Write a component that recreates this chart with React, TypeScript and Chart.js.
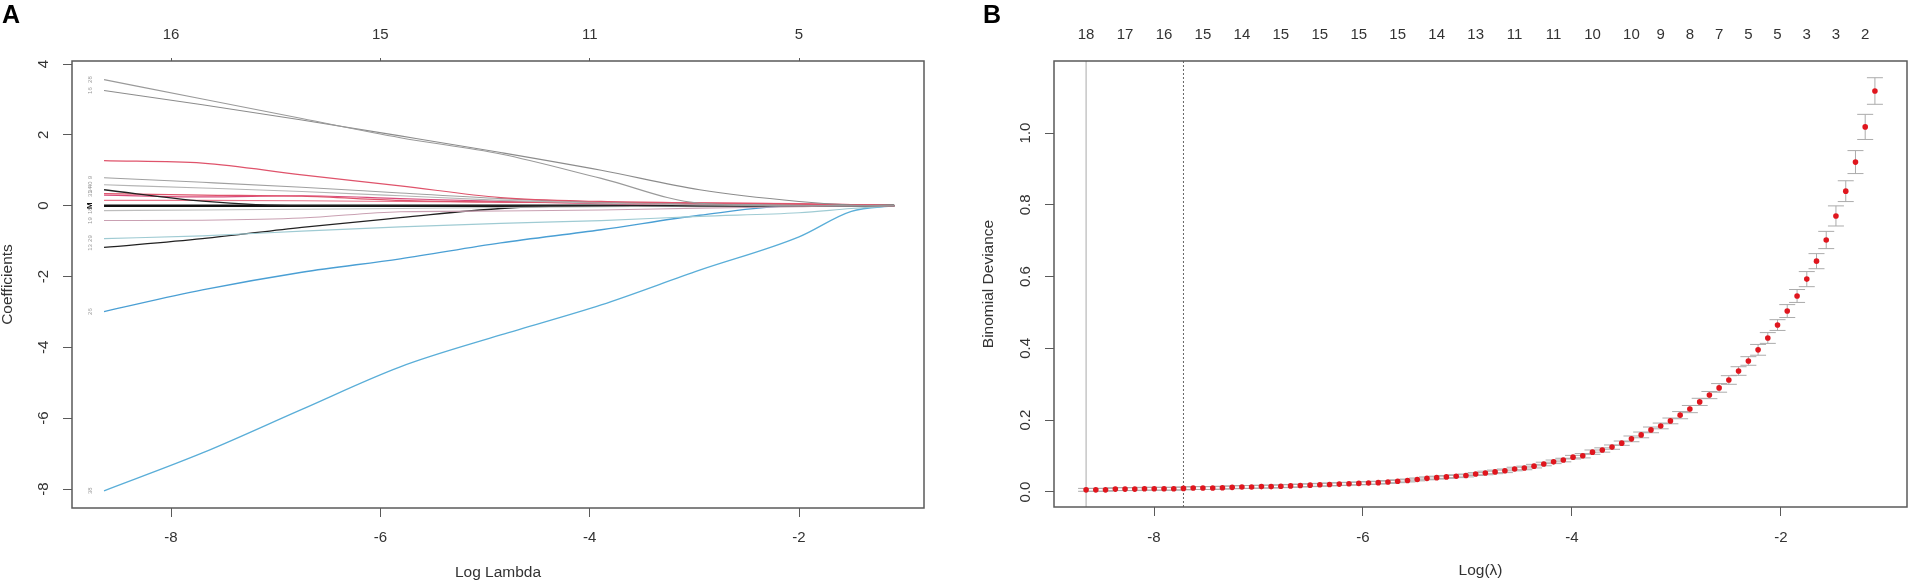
import React, { useEffect, useRef } from "react";
import { Chart, registerables } from "chart.js";

Chart.register(...registerables);

const FONT = "'Liberation Sans', Arial, Helvetica, sans-serif";
const TEXT = "#333333";
const AXIS = "#5a5a5a";

// ---------------- Panel A: coefficient paths ----------------
const pathLogLambda = [-8.64, -7.7, -6.75, -5.81, -4.85, -3.89, -2.95, -2.0, -1.5, -1.09];
const coef28 = [3.56, 3.01, 2.46, 1.92, 1.46, 0.77, 0.07, 0, 0, 0];
const coef16 = [3.25, 2.85, 2.42, 1.97, 1.5, 1.0, 0.45, 0.12, 0.02, 0];
const coef5 = [1.27, 1.2, 0.87, 0.56, 0.23, 0.12, 0.08, 0.05, 0.03, 0];
const coef9 = [0.79, 0.66, 0.52, 0.36, 0.2, 0.1, 0.05, 0.02, 0, 0];
const coef40 = [0.59, 0.5, 0.4, 0.28, 0.15, 0.07, 0.02, 0, 0, 0];
const coef34 = [0.45, 0.13, 0, 0, 0, 0, 0, 0, 0, 0];
const coef31 = [0.34, 0.3, 0.27, 0.15, 0.1, 0.08, 0.06, 0.04, 0.02, 0];
const coef7 = [0.3, 0.25, 0.28, 0.2, 0.12, 0.06, 0.02, 0, 0, 0];
const coef11 = [0.15, 0.15, 0.14, 0.12, 0.1, 0.09, 0.08, 0.06, 0.03, 0];
const coef18 = [-0.14, -0.12, -0.1, -0.08, -0.05, -0.03, -0.01, 0, 0, 0];
const coef19 = [-0.42, -0.41, -0.35, -0.17, -0.15, -0.12, -0.07, -0.03, 0, 0];
const coef29 = [-0.93, -0.85, -0.72, -0.6, -0.5, -0.42, -0.3, -0.2, -0.08, 0];
const coef13 = [-1.18, -0.93, -0.61, -0.34, -0.08, 0, 0, 0, 0, 0];
const coef26 = [-2.99, -2.38, -1.88, -1.5, -1.05, -0.68, -0.27, 0, 0, 0];
const coef38 = [-8.05, -6.98, -5.75, -4.55, -3.65, -2.8, -1.82, -0.88, -0.16, 0];
const coefZero = [0, 0, 0, 0, 0, 0, 0, 0, 0, 0];

const pathValues = [coef28, coef16, coef5, coef9, coef40, coef34, coef31, coef7, coef11, coef18, coef19, coef29, coef13, coef26, coef38, coefZero];
const pathNames = ["28", "16", "", "9", "40", "34", "31", "", "", "18", "19", "29", "13", "26", "38", "M"];
const pathColors = ["#9a9a9a", "#8c8c8c", "#df536b", "#a0a0a0", "#b4b4b4", "#222222", "#df536b", "#d94a7a", "#e8758a", "#bdbdbd", "#c9a0b2", "#9fcbd3", "#222222", "#4a9fd4", "#5aaed8", "#111111"];
const pathWidths = [1.1, 1.1, 1.2, 1.1, 1.1, 1.3, 1.2, 1.2, 1.1, 1.1, 1.1, 1.2, 1.3, 1.3, 1.3, 2.6];

const aXTicks = [-8, -6, -4, -2];
const aTopTicks = [-8, -6, -4, -2];
const aTopLabels = ["16", "15", "11", "5"];
const aYTicks = [-8, -6, -4, -2, 0, 2, 4];

// ---------------- Panel B: cross-validation curve ----------------
const bLogLambda = [
  -8.65, -8.557, -8.464, -8.37, -8.277, -8.184, -8.091, -7.998, -7.904, -7.811,
  -7.718, -7.625, -7.532, -7.438, -7.345, -7.252, -7.159, -7.066, -6.972, -6.879,
  -6.786, -6.693, -6.6, -6.506, -6.413, -6.32, -6.227, -6.134, -6.04, -5.947,
  -5.854, -5.761, -5.668, -5.574, -5.481, -5.388, -5.295, -5.202, -5.108, -5.015,
  -4.922, -4.829, -4.736, -4.642, -4.549, -4.456, -4.363, -4.27, -4.176, -4.083,
  -3.99, -3.897, -3.804, -3.71, -3.617, -3.524, -3.431, -3.338, -3.244, -3.151,
  -3.058, -2.965, -2.872, -2.778, -2.685, -2.592, -2.499, -2.406, -2.312, -2.219,
  -2.126, -2.033, -1.94, -1.846, -1.753, -1.66, -1.567, -1.474, -1.38, -1.287,
  -1.194, -1.101,
];
const bDeviance = [
  0.006, 0.006, 0.006, 0.008, 0.008, 0.008, 0.009, 0.009, 0.009, 0.009,
  0.01, 0.011, 0.011, 0.011, 0.012, 0.013, 0.014, 0.014, 0.015, 0.015,
  0.016, 0.017, 0.018, 0.019, 0.02, 0.021, 0.022, 0.023, 0.024, 0.025,
  0.026, 0.028, 0.03, 0.032, 0.035, 0.038, 0.04, 0.042, 0.044, 0.046,
  0.05, 0.053, 0.056, 0.059, 0.064, 0.067, 0.072, 0.078, 0.084, 0.089,
  0.097, 0.101, 0.111, 0.117, 0.125, 0.136, 0.148, 0.159, 0.173, 0.184,
  0.198, 0.214, 0.231, 0.251, 0.27, 0.29, 0.312, 0.337, 0.365, 0.396,
  0.429, 0.465, 0.504, 0.546, 0.593, 0.643, 0.702, 0.769, 0.838, 0.919,
  1.017, 1.117,
];
const bSE = [
  0.004, 0.004, 0.004, 0.004, 0.004, 0.004, 0.004, 0.004, 0.004, 0.004,
  0.004, 0.004, 0.004, 0.004, 0.004, 0.004, 0.004, 0.004, 0.004, 0.004,
  0.004, 0.004, 0.004, 0.004, 0.004, 0.004, 0.004, 0.004, 0.004, 0.004,
  0.004, 0.004, 0.004, 0.004, 0.004, 0.004, 0.004, 0.004, 0.004, 0.004,
  0.004, 0.005, 0.005, 0.005, 0.005, 0.005, 0.005, 0.005, 0.005, 0.005,
  0.005, 0.006, 0.006, 0.006, 0.006, 0.006, 0.008, 0.008, 0.008, 0.008,
  0.008, 0.01, 0.01, 0.01, 0.01, 0.012, 0.012, 0.012, 0.012, 0.015,
  0.015, 0.015, 0.018, 0.018, 0.021, 0.021, 0.024, 0.028, 0.029, 0.032,
  0.035, 0.037,
];
const bTopLogLambda = [-8.65, -8.277, -7.904, -7.532, -7.159, -6.786, -6.413, -6.04, -5.668, -5.295, -4.922, -4.549, -4.176, -3.804, -3.431, -3.151, -2.872, -2.592, -2.312, -2.033, -1.753, -1.474, -1.194];
const bTopLabels = ["18", "17", "16", "15", "14", "15", "15", "15", "15", "14", "13", "11", "11", "10", "10", "9", "8", "7", "5", "5", "3", "3", "2"];
const bXTicks = [-8, -6, -4, -2];
const bYTicks = [0, 0.2, 0.4, 0.6, 0.8, 1.0];
const bYLabels = ["0.0", "0.2", "0.4", "0.6", "0.8", "1.0"];
const bLambdaMin = -8.65;
const bLambda1se = -7.718;

function drawText(ctx: CanvasRenderingContext2D, s: string, x: number, y: number, size: number, color = TEXT, rot = 0, weight = "normal") {
  ctx.save();
  ctx.translate(x, y);
  if (rot) ctx.rotate(rot);
  ctx.font = `${weight} ${size}px ${FONT}`;
  ctx.fillStyle = color;
  ctx.textAlign = "center";
  ctx.textBaseline = "middle";
  ctx.fillText(s, 0, 0);
  ctx.restore();
}

function axis(position: string, min: number, max: number, ticks: number[], size: number, tickLen: number) {
  return {
    type: "linear",
    position,
    min,
    max,
    afterBuildTicks: (s: any) => {
      s.ticks = ticks.map((v) => ({ value: v }));
    },
    afterFit: (s: any) => {
      if (position === "left" || position === "right") s.width = size;
      else s.height = size;
    },
    ticks: { display: false },
    grid: { display: tickLen > 0, drawOnChartArea: false, drawTicks: true, tickLength: tickLen, color: AXIS, lineWidth: 1 },
    border: { display: false },
  };
}

function frame(chart: any) {
  const { ctx, chartArea: ca } = chart;
  ctx.save();
  ctx.strokeStyle = AXIS;
  ctx.lineWidth = 1.5;
  ctx.strokeRect(ca.left, ca.top, ca.right - ca.left, ca.bottom - ca.top);
  ctx.restore();
}

function configA(): any {
  const datasets = pathValues.map((vals, k) => ({
    data: pathLogLambda.map((x, i) => ({ x, y: vals[i] })),
    borderColor: pathColors[k],
    borderWidth: pathWidths[k],
    pointRadius: 0,
    fill: false,
    cubicInterpolationMode: "monotone",
  }));
  const textPlugin = {
    id: "panelAText",
    afterDraw(chart: any) {
      const { ctx, chartArea: ca, scales } = chart;
      frame(chart);
      aXTicks.forEach((v) => drawText(ctx, String(v), scales.x.getPixelForValue(v), 538, 15));
      aTopTicks.forEach((v, i) => drawText(ctx, aTopLabels[i], scales.x2.getPixelForValue(v), 34.5, 15));
      aYTicks.forEach((v) => drawText(ctx, String(v), 44, scales.y.getPixelForValue(v), 15, TEXT, -Math.PI / 2));
      drawText(ctx, "Log Lambda", (ca.left + ca.right) / 2, 573, 15.5);
      drawText(ctx, "Coefficients", 8, (ca.top + ca.bottom) / 2, 15.5, TEXT, -Math.PI / 2);
      drawText(ctx, "A", 11, 16, 25, "#000", 0, "bold");
      const x0 = scales.x.getPixelForValue(pathLogLambda[0]) - 14;
      pathValues.forEach((vals, k) => {
        if (!pathNames[k]) return;
        const isZero = pathNames[k] === "M";
        drawText(ctx, pathNames[k], x0, scales.y.getPixelForValue(vals[0]), isZero ? 8 : 6, isZero ? "#111" : "#9a9a9a", -Math.PI / 2, isZero ? "bold" : "normal");
      });
    },
  };
  return {
    type: "line",
    data: { datasets },
    options: {
      animation: false,
      responsive: false,
      layout: { padding: { left: 0, right: 32, top: 0, bottom: 0 } },
      plugins: { legend: { display: false }, tooltip: { enabled: false } },
      scales: {
        x: axis("bottom", -8.946, -0.806, aXTicks, 80, 9),
        x2: axis("top", -8.946, -0.806, aTopTicks, 61, 3),
        y: axis("left", -8.536, 4.085, aYTicks, 72, 9),
      },
    },
    plugins: [textPlugin],
  };
}

function configB(): any {
  const points = bLogLambda.map((x, i) => ({ x, y: bDeviance[i] }));
  const under = {
    id: "panelBUnder",
    beforeDatasetsDraw(chart: any) {
      const { ctx, chartArea: ca, scales } = chart;
      ctx.save();
      ctx.strokeStyle = "#aaaaaa";
      ctx.lineWidth = 1;
      const xm = scales.x.getPixelForValue(bLambdaMin);
      ctx.beginPath();
      ctx.moveTo(xm, ca.top);
      ctx.lineTo(xm, ca.bottom);
      ctx.stroke();
      ctx.strokeStyle = "#666666";
      ctx.setLineDash([2, 2]);
      const xs = scales.x.getPixelForValue(bLambda1se);
      ctx.beginPath();
      ctx.moveTo(xs, ca.top);
      ctx.lineTo(xs, ca.bottom);
      ctx.stroke();
      ctx.setLineDash([]);
      ctx.strokeStyle = "#ababab";
      ctx.lineWidth = 1;
      bLogLambda.forEach((lx, i) => {
        const px = scales.x.getPixelForValue(lx);
        const yt = scales.y.getPixelForValue(bDeviance[i] + bSE[i]);
        const yb = scales.y.getPixelForValue(bDeviance[i] - bSE[i]);
        ctx.beginPath();
        ctx.moveTo(px, yt);
        ctx.lineTo(px, yb);
        ctx.moveTo(px - 8, yt);
        ctx.lineTo(px + 8, yt);
        ctx.moveTo(px - 8, yb);
        ctx.lineTo(px + 8, yb);
        ctx.stroke();
      });
      ctx.restore();
    },
  };
  const textPlugin = {
    id: "panelBText",
    afterDraw(chart: any) {
      const { ctx, chartArea: ca, scales } = chart;
      frame(chart);
      bXTicks.forEach((v) => drawText(ctx, String(v), scales.x.getPixelForValue(v), 538, 15));
      bTopLogLambda.forEach((v, i) => drawText(ctx, bTopLabels[i], scales.x2.getPixelForValue(v), 34.5, 15));
      bYTicks.forEach((v, i) => drawText(ctx, bYLabels[i], 70, scales.y.getPixelForValue(v), 15, TEXT, -Math.PI / 2));
      drawText(ctx, "Log(λ)", (ca.left + ca.right) / 2, 571, 15.5);
      drawText(ctx, "Binomial Deviance", 33, (ca.top + ca.bottom) / 2, 15.5, TEXT, -Math.PI / 2);
      drawText(ctx, "B", 36, 16, 25, "#000", 0, "bold");
    },
  };
  return {
    type: "scatter",
    data: {
      datasets: [
        {
          data: points,
          pointRadius: 2.8,
          pointBackgroundColor: "#e0161e",
          pointBorderWidth: 0,
          showLine: false,
        },
      ],
    },
    options: {
      animation: false,
      responsive: false,
      layout: { padding: { left: 0, right: 5, top: 0, bottom: 0 } },
      plugins: { legend: { display: false }, tooltip: { enabled: false } },
      scales: {
        x: axis("bottom", -8.957, -0.794, bXTicks, 81, 9),
        x2: axis("top", -8.957, -0.794, bTopLogLambda, 61, 0),
        y: axis("left", -0.0418, 1.2006, bYTicks, 98, 9),
      },
    },
    plugins: [under, textPlugin],
  };
}

export default function App() {
  const aRef = useRef<HTMLCanvasElement>(null);
  const bRef = useRef<HTMLCanvasElement>(null);
  useEffect(() => {
    const a = new Chart(aRef.current as HTMLCanvasElement, configA());
    const b = new Chart(bRef.current as HTMLCanvasElement, configB());
    return () => {
      a.destroy();
      b.destroy();
    };
  }, []);
  return (
    <div style={{ position: "absolute", left: 0, top: 0, width: 1912, height: 588, background: "#fff" }}>
      <canvas ref={aRef} width={956} height={588} style={{ position: "absolute", left: 0, top: 0, width: 956, height: 588 }} />
      <canvas ref={bRef} width={956} height={588} style={{ position: "absolute", left: 956, top: 0, width: 956, height: 588 }} />
    </div>
  );
}
